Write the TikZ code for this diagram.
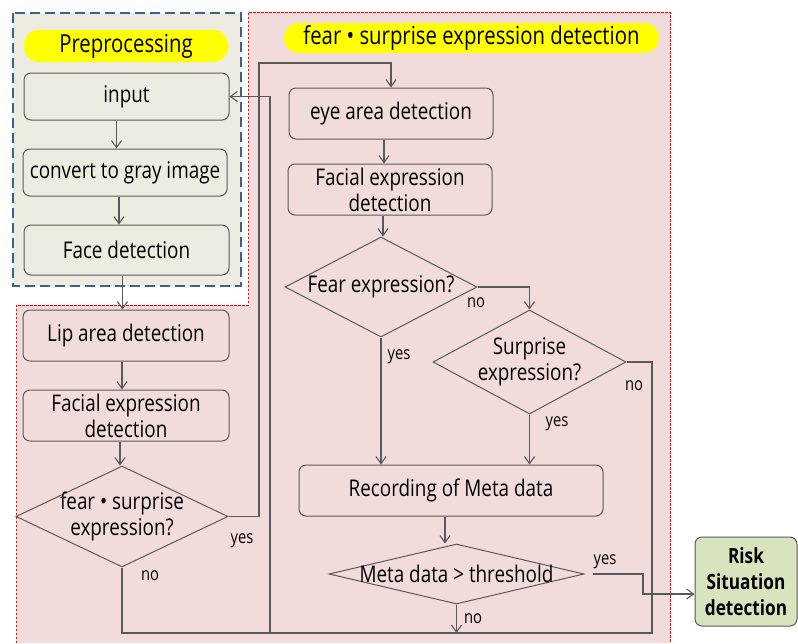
\documentclass[tikz,border=0pt]{standalone}
\usepackage{fontspec}
\setmainfont{Open Sans}[FakeStretch=0.82]
\usetikzlibrary{shapes.geometric,arrows.meta}
\definecolor{pinkbg}{HTML}{F2DCDB}
\definecolor{beigebg}{HTML}{EEECE1}
\definecolor{bluedash}{HTML}{3A6192}
\definecolor{edge}{HTML}{595959}
\definecolor{riskgreen}{HTML}{D7E4BD}
\definecolor{pill}{HTML}{FFFF00}
\begin{document}
\begin{tikzpicture}[x=1pt,y=-1pt,
  every node/.style={text=black},
  txt/.style={font=\fontsize{23}{26}\selectfont},
  box/.style={txt, draw=edge, line width=1pt, rounded corners=7pt,
    inner sep=0pt, align=center},
  dia/.style={diamond, draw=edge, line width=1pt, inner sep=0pt},
  dtext/.style={txt, align=center, inner sep=0pt},
  pillbox/.style={fill=pill, rounded corners=15pt, inner sep=0pt,
    font=\fontsize{24.8}{28}\selectfont},
  lbl/.style={font=\fontsize{18}{20}\selectfont, inner sep=0pt},
  line/.style={draw=edge, line width=1.1pt},
  arrow/.style={line, -{Straight Barb[length=7pt,width=10pt]}}
]
\useasboundingbox[fill=white] (0,0) rectangle (798,643);

% background regions
\fill[pinkbg] (248,12) -- (670,12) -- (670,643) -- (16,643) -- (16,305)
  -- (248,305) -- cycle;
\draw[red, line width=0.8pt, dash pattern=on 2.5pt off 1.5pt]
  (16,643) -- (16,305) -- (248,305) -- (248,12) -- (670,12) -- (670,643);
\filldraw[fill=beigebg, draw=bluedash, line width=2.8pt,
  dash pattern=on 10pt off 5pt] (13,13) rectangle (241,286);

% titles
\node[pillbox, minimum width=204, minimum height=32] (pre) at (126,46) {Preprocessing};
\node[pillbox, minimum width=375, minimum height=30] (fsd) at (471.5,38)
  {fear • surprise expression detection};

% preprocessing column
\node[box, minimum width=205, minimum height=47] (input) at (126.5,96.5) {input};
\node[box, minimum width=204, minimum height=47] (conv) at (125,172.5) {convert to gray image};
\node[box, minimum width=205, minimum height=50] (face) at (126.5,250) {Face detection};

% lip branch
\node[box, minimum width=206, minimum height=51] (lip) at (126,335.5) {Lip area detection};
\node[box, minimum width=206, minimum height=51] (facL) at (126,415.5) {Facial expression\\detection};
\node[dia, minimum width=212, minimum height=101] (fs) at (122,516.5) {};
\node[dtext] (fst) at (fs) {fear • surprise\\expression?};

% eye branch
\node[box, minimum width=204, minimum height=51] (eye) at (391,113.5) {eye area detection};
\node[box, minimum width=204, minimum height=51] (facR) at (390,189.5) {Facial expression\\detection};
\node[dia, minimum width=192, minimum height=100] (fear) at (381,287) {};
\node[dtext] (feart) at (fear) {Fear expression?};
\node[dia, minimum width=193, minimum height=104] (sur) at (529.5,362) {};
\node[dtext] (surt) at (sur) {Surprise\\expression?};

% meta data
\node[box, minimum width=304, minimum height=51] (rec) at (451,490.5) {Recording of Meta data};
\node[dia, minimum width=255, minimum height=60] (meta) at (456.5,574) {};
\node[dtext] (metat) at (meta) {Meta data > threshold};

\node[box, fill=riskgreen, minimum width=102, minimum height=89,
  font=\fontsize{21}{26}\selectfont\bfseries] (risk) at (746,581.5)
  {Risk\\Situation\\detection};

% loop coordinates
\coordinate (jump) at (259,63);
\coordinate (loopL) at (270,633);
\coordinate (loopR) at (652,633);
\coordinate (yb) at (643,594);

% connectors
\draw[arrow] ([xshift=-10pt]input.south) -- ([xshift=-10pt]input.south |- conv.north);
\draw[arrow] ([xshift=-6pt]conv.south) -- ([xshift=-6pt]conv.south |- face.north);
\draw[arrow] ([xshift=-4pt]face.south) -- ([xshift=-4pt]face.south |- lip.north);
\draw[arrow] ([xshift=-4pt]lip.south) -- ([xshift=-4pt]lip.south |- facL.north);
\draw[arrow] ([xshift=-6pt]facL.south) -- ([xshift=-6pt]facL.south |- fs.north);
\draw[arrow] (fs.east) -| (jump) -| (eye.north);
\draw[arrow] ([xshift=-7pt]eye.south) -- ([xshift=-7pt]eye.south |- facR.north);
\draw[arrow] ([xshift=-7pt]facR.south) -- ([xshift=-7pt]facR.south |- fear.north);
\draw[arrow] (fear.east) -| (sur.north);
\draw[arrow] (fear.south) -- (fear.south |- rec.north);
\draw[arrow] (sur.south) -- (sur.south |- rec.north);
\draw[arrow] ([xshift=-6pt]rec.south) -- ([xshift=-6pt]rec.south |- meta.north);
\draw[line] (fs.south) |- (loopR) |- (sur.east);
\draw[arrow] (loopL) |- (input.east);
\draw[arrow] (meta.south) -- (meta.south |- loopL);
\draw[arrow] ([xshift=8pt]meta.east) -| (yb) -- (yb -| risk.west);

% branch labels
\node[lbl] (l1) at (242,541) {yes};
\node[lbl] (l2) at (150,576) {no};
\node[lbl] (l3) at (476,303) {no};
\node[lbl] (l4) at (399,357) {yes};
\node[lbl] (l5) at (557,424) {yes};
\node[lbl] (l6) at (634,386) {no};
\node[lbl] (l7) at (605,562) {yes};
\node[lbl] (l8) at (473,619) {no};
\end{tikzpicture}
\end{document}
